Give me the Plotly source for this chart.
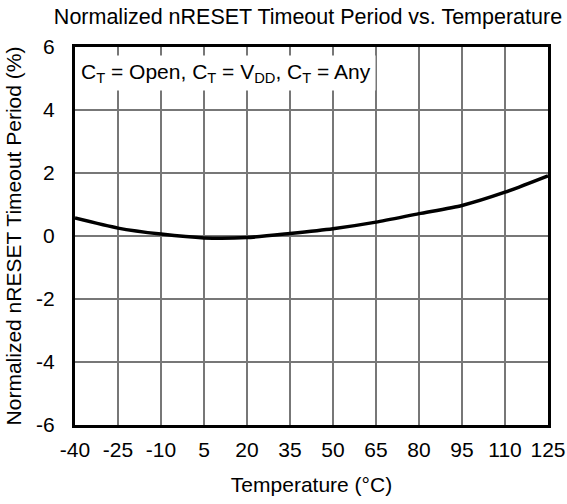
import plotly.graph_objects as go

temperature_c = [-40, -25, -10, 5, 20, 35, 50, 65, 80, 95, 110, 125]
timeout_change_pct = [0.57, 0.25, 0.06, -0.06, -0.05, 0.08, 0.23, 0.44, 0.71, 0.97, 1.39, 1.91]

x_ticks = [-40, -25, -10, 5, 20, 35, 50, 65, 80, 95, 110, 125]
y_ticks = [-6, -4, -2, 0, 2, 4, 6]

FONT = "Liberation Sans, Arial, sans-serif"
FS = 21

fig = go.Figure()
fig.add_trace(go.Scatter(
    x=temperature_c, y=timeout_change_pct, mode="lines",
    line=dict(color="black", width=3.5, shape="spline", smoothing=0.6),
    showlegend=False, hoverinfo="skip",
))

fig.update_layout(
    width=567, height=504,
    margin=dict(l=75, r=18.5, t=46.7, b=79.3, autoexpand=False),
    paper_bgcolor="white", plot_bgcolor="white",
    font=dict(family=FONT, size=FS, color="black"),
    title=dict(text="Normalized nRESET Timeout Period vs. Temperature",
               x=308 / 567, xanchor="center", y=1 - 16.5 / 504, yanchor="middle",
               font=dict(size=21.5, family=FONT, color="black")),
    xaxis=dict(range=[-40, 125], tickvals=x_ticks, ticktext=[str(v) for v in x_ticks],
               showgrid=True, gridcolor="#777777", gridwidth=1.5,
               showline=True, linecolor="black", linewidth=3, mirror=True,
               ticks="", ticklabelstandoff=4, zeroline=False, automargin=False,
               title=dict(text="Temperature (°C)", standoff=18, font=dict(size=FS))),
    yaxis=dict(range=[-6, 6], tickvals=y_ticks, ticktext=[str(v) for v in y_ticks],
               showgrid=True, gridcolor="#777777", gridwidth=1.5,
               showline=True, linecolor="black", linewidth=3, mirror=True,
               ticks="", ticklabelstandoff=13, zeroline=False, automargin=False,
               title=dict(text="Normalized nRESET Timeout Period (%)", standoff=9, font=dict(size=FS))),
    annotations=[dict(
        text="C<sub>T</sub> = Open, C<sub>T</sub> = V<sub>DD</sub>, C<sub>T</sub> = Any",
        xref="paper", yref="paper", x=0.003, y=0.979, xanchor="left", yanchor="top",
        showarrow=False, bgcolor="white", borderpad=4,
        font=dict(size=FS, family=FONT, color="black"), align="left",
    )],
)

fig.write_html("out.html", config={"displayModeBar": False},
               post_script="document.body.style.margin='0';")
